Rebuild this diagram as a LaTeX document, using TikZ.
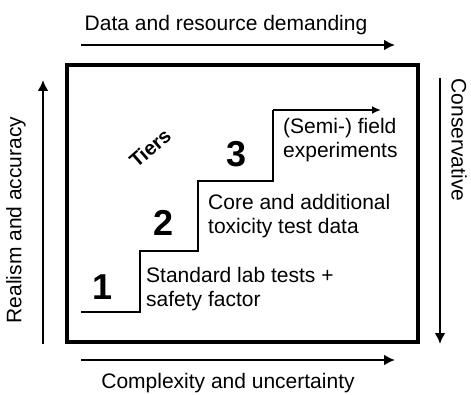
\documentclass[tikz,border=0pt]{standalone}
\usepackage{fontspec}
\setmainfont{Liberation Sans}
\usetikzlibrary{arrows.meta}
\begin{document}
\begin{tikzpicture}[x=1pt,y=-1pt,
  lbl/.style={font=\fontsize{21}{24}\selectfont, inner sep=0pt},
  blk/.style={font=\fontsize{21}{24}\selectfont, inner sep=0pt, align=left, anchor=west},
  num/.style={font=\fontsize{36}{36}\selectfont\bfseries, inner sep=0pt},
  axis/.style={line width=2.6pt, -{Latex[length=11pt,width=11pt]}},
  stairline/.style={line width=2pt}
]
\useasboundingbox[fill=white] (0,0) rectangle (471,395);
% frame
\node[draw, line width=4pt, minimum width=351pt, minimum height=277pt, inner sep=0pt] (frame) at (242.5,203.5) {};
% axis arrows
\coordinate (ts) at (81,45); \coordinate (te) at (395,45);
\coordinate (bs) at (81,360); \coordinate (be) at (395,360);
\coordinate (ls) at (43,344); \coordinate (le) at (43,80);
\coordinate (rs) at (440,78); \coordinate (re) at (440,344);
\draw[axis] (ts) -- (te);
\draw[axis] (bs) -- (be);
\draw[axis] (ls) -- (le);
\draw[axis] (rs) -- (re);
\node[lbl] (toplbl) at (226,25) {Data and resource demanding};
\node[lbl] (botlbl) at (228,383) {Complexity and uncertainty};
\node[lbl, rotate=90] (leftlbl) at (16,220) {Realism and accuracy};
\node[lbl, rotate=-90] (rightlbl) at (459,140) {Conservative};
% stairs
\coordinate (s0) at (81,312);
\coordinate (s1) at (140,312);
\coordinate (s2) at (140,251);
\coordinate (s3) at (198,251);
\coordinate (s4) at (198,181);
\coordinate (s5) at (273,181);
\coordinate (s6) at (273,110);
\coordinate (s7) at (381,110);
\draw[stairline] (s0) -- (s1) -- (s2) -- (s3) -- (s4) -- (s5) -- (s6);
\draw[stairline, -{Latex[length=9pt,width=8pt]}] (s6) -- (s7);
% numbers
\node[num] (n1) at (103,287) {1};
\node[num] (n2) at (164,223) {2};
\node[num] (n3) at (237,154) {3};
\node[font=\fontsize{20}{20}\selectfont\bfseries, rotate=41, inner sep=0pt] (tiers) at (150,148) {Tiers};
% texts
\node[blk] (t1) at (146,289) {Standard lab tests +\\safety factor};
\node[blk] (t2) at (208,216) {Core and additional\\toxicity test data};
\node[blk] (t3) at (283,140) {(Semi-) field\\experiments};
\end{tikzpicture}
\end{document}
